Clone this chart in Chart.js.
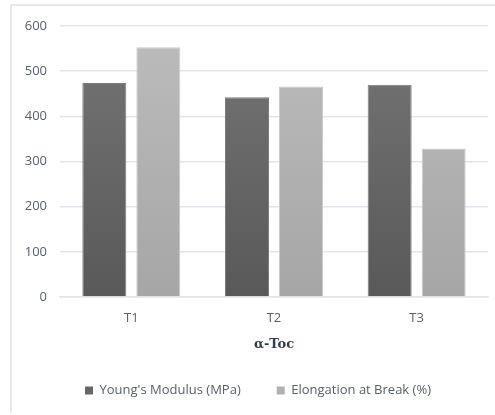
<!DOCTYPE html>
<html>
<head>
<meta charset="utf-8">
<script src="https://cdn.jsdelivr.net/npm/chart.js@4"></script>
<style>
  html, body { margin: 0; padding: 0; background: #fff; }
  #wrap { width: 495px; height: 415px; }
</style>
</head>
<body>
<div id="wrap"><canvas id="chart" width="495" height="415"></canvas></div>
<script>
const categories = ["T1", "T2", "T3"];
const youngsModulus = [474, 442, 470];
const elongation = [553, 466, 329];
const yMax = 600;
const yStep = 100;

const tickColor = "#58606c";
const gridColor = "#e2e6eb";
const labelFont = { family: "'Open Sans', sans-serif", size: 13 };

const vGradient = (top, bottom) => (ctx) => {
  const area = ctx.chart.chartArea;
  if (!area) return bottom;
  const g = ctx.chart.ctx.createLinearGradient(0, area.top, 0, area.bottom);
  g.addColorStop(0, top);
  g.addColorStop(1, bottom);
  return g;
};

// thin frame round the chart, open on right and bottom like the source;
// also nudges the legend a bit right of the canvas centre
const frame = {
  id: "frame",
  afterLayout(chart) {
    if (chart.legend) chart.legend.left += 28;
  },
  beforeDraw(chart) {
    const c = chart.ctx;
    c.save();
    c.strokeStyle = "#dfe3e8";
    c.lineWidth = 1.5;
    c.beginPath();
    c.moveTo(11, 413);
    c.lineTo(11, 5);
    c.lineTo(495, 5);
    c.stroke();
    c.restore();
  }
};

new Chart(document.getElementById("chart"), {
  type: "bar",
  data: {
    labels: categories,
    datasets: [
      {
        label: "Young's Modulus (MPa)",
        data: youngsModulus,
        backgroundColor: vGradient("#757575", "#595959"),
        borderColor: "#7d7d7d",
        borderWidth: 1,
        categoryPercentage: 0.757,
        barPercentage: 0.815
      },
      {
        label: "Elongation at Break (%)",
        data: elongation,
        backgroundColor: vGradient("#bcbcbc", "#a6a6a6"),
        borderColor: "#cbcbcb",
        borderWidth: 1,
        categoryPercentage: 0.757,
        barPercentage: 0.815
      }
    ]
  },
  options: {
    responsive: false,
    animation: false,
    layout: { padding: { top: 26, right: 7, bottom: 8, left: 0 } },
    plugins: {
      tooltip: { enabled: false },
      legend: {
        position: "bottom",
        labels: {
          boxWidth: 8,
          boxHeight: 8,
          padding: 10,
          color: tickColor,
          font: labelFont,
          generateLabels(chart) {
            const fills = ["#666666", "#b0b0b0"];
            // wider gap between the two entries, as in the source
            const tails = ["\u2003\u2003", ""];
            return chart.data.datasets.map((ds, i) => ({
              text: ds.label + tails[i],
              fillStyle: fills[i],
              strokeStyle: fills[i],
              lineWidth: 0,
              fontColor: tickColor,
              datasetIndex: i
            }));
          }
        }
      }
    },
    scales: {
      x: {
        grid: { display: false, drawTicks: false },
        border: { display: true, color: gridColor, width: 1.5 },
        ticks: { padding: 13, color: tickColor, font: labelFont },
        title: {
          display: true,
          text: "α-Toc",
          color: "#333d4b",
          font: { family: "'DejaVu Serif', serif", size: 13, weight: "bold" },
          padding: { top: 0, bottom: 22 }
        },
        afterFit(scale) { scale.height = 77; }
      },
      y: {
        min: 0,
        max: yMax,
        grid: { color: gridColor, lineWidth: 1.5, drawTicks: false },
        border: { display: false },
        ticks: { stepSize: yStep, padding: 13, color: tickColor, font: labelFont },
        afterFit(scale) { scale.width = 60; }
      }
    }
  },
  plugins: [frame]
});
</script>
</body>
</html>
